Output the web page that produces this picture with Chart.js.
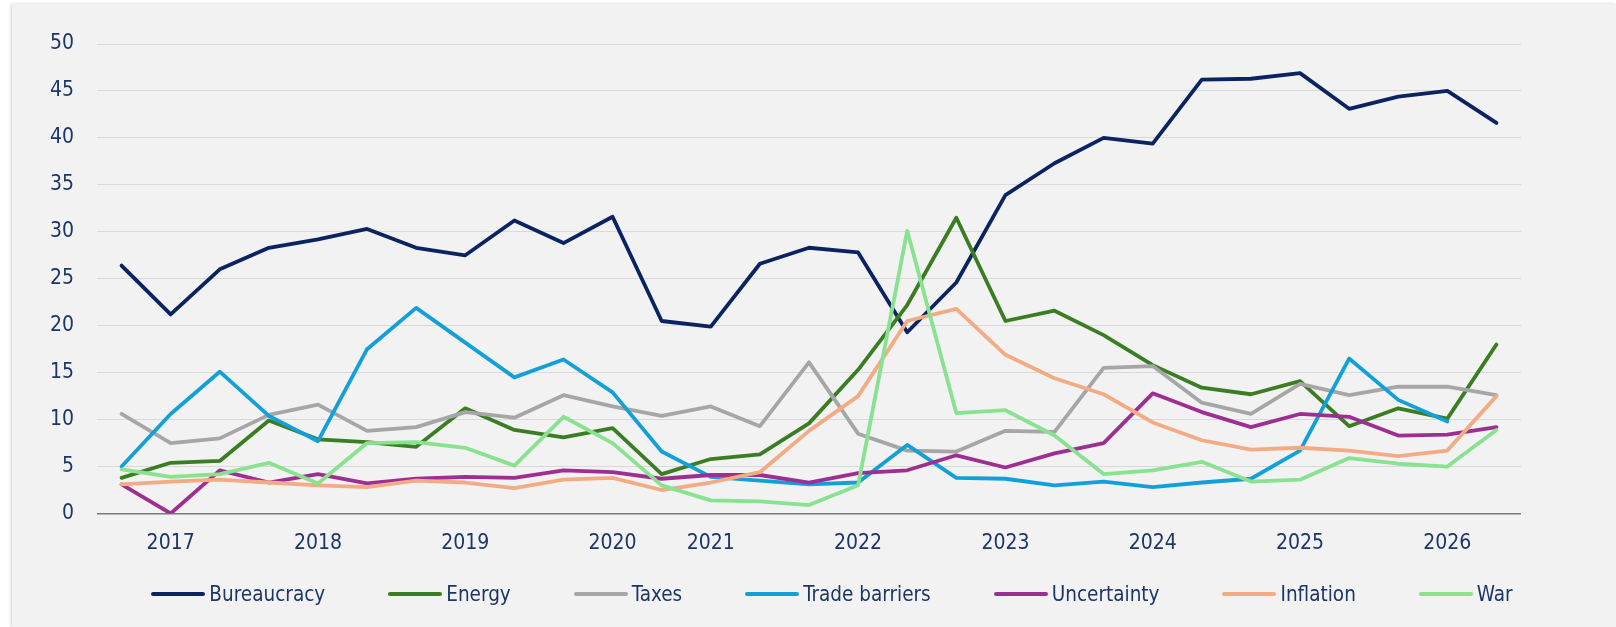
<!DOCTYPE html>
<html>
<head>
<meta charset="utf-8">
<script src="https://cdn.jsdelivr.net/npm/chart.js@4.4.1/dist/chart.umd.min.js"></script>
<style>
  html, body { margin: 0; padding: 0; background: #ffffff; }
  body { width: 1616px; height: 627px; position: relative; overflow: hidden; }
  #panel {
    position: absolute; left: 12px; top: 4px; right: 0; bottom: 0;
    background: #f2f2f2;
    box-shadow: -1px 0 3px rgba(0, 0, 0, 0.18);
  }
  #wrap { position: absolute; left: 0; top: 0; width: 1616px; height: 627px; }
  #legend {
    position: absolute; left: 120px; width: 1424px; top: 580px; height: 28px;
    display: flex; justify-content: center; align-items: center; gap: 63px;
    font-family: "DejaVu Sans Condensed", sans-serif;
    font-size: 20.5px; color: #1c3667;
  }
  .item { display: flex; align-items: center; white-space: nowrap; }
  .swatch { width: 54px; height: 4px; border-radius: 2px; margin-right: 4px; }
</style>
</head>
<body>
<div id="panel"></div>
<div id="wrap"><canvas id="chart"></canvas></div>
<div id="legend"></div>
<script>
  const FONT = '"DejaVu Sans Condensed", sans-serif';
  const TEXT = "#1c3667";

  // 29 survey waves, year label under the middle wave
  const waveLabels = [
    "", "2017", "", "", "2018", "", "", "2019", "", "", "2020", "", "2021", "", "",
    "2022", "", "", "2023", "", "", "2024", "", "", "2025", "", "", "2026", ""
  ];

  const bureaucracy = [26.4, 21.2, 26.0, 28.3, 29.2, 30.3, 28.3, 27.5, 31.2, 28.8, 31.6, 20.5, 19.9, 26.6, 28.3, 27.8, 19.3, 24.6, 33.9, 37.3, 40.0, 39.4, 46.2, 46.3, 46.9, 43.1, 44.4, 45.0, 41.6];
  const energy = [3.8, 5.4, 5.6, 9.9, 7.9, 7.6, 7.1, 11.2, 8.9, 8.1, 9.1, 4.2, 5.8, 6.3, 9.6, 15.3, 22.2, 31.5, 20.5, 21.6, 19.0, 15.8, 13.4, 12.7, 14.1, 9.3, 11.2, 10.1, 18.0];
  const taxes = [10.6, 7.5, 8.0, 10.5, 11.6, 8.8, 9.2, 10.8, 10.2, 12.6, 11.4, 10.4, 11.4, 9.3, 16.1, 8.5, 6.7, 6.6, 8.8, 8.7, 15.5, 15.7, 11.8, 10.6, 13.8, 12.6, 13.5, 13.5, 12.6];
  const tradeBarriers = [5.0, 10.6, 15.1, 10.4, 7.7, 17.5, 21.9, 18.2, 14.5, 16.4, 12.9, 6.6, 3.9, 3.5, 3.1, 3.3, 7.3, 3.8, 3.7, 3.0, 3.4, 2.8, 3.3, 3.7, 6.7, 16.5, 12.1, 9.8, null];
  const uncertainty = [3.1, 0.0, 4.6, 3.3, 4.2, 3.2, 3.7, 3.9, 3.8, 4.6, 4.4, 3.7, 4.1, 4.1, 3.3, 4.3, 4.6, 6.2, 4.9, 6.4, 7.5, 12.8, 10.8, 9.2, 10.6, 10.3, 8.3, 8.4, 9.2];
  const inflation = [3.1, 3.4, 3.6, 3.3, 3.0, 2.8, 3.5, 3.3, 2.7, 3.6, 3.8, 2.5, 3.3, 4.4, 8.8, 12.5, 20.5, 21.8, 16.9, 14.4, 12.7, 9.7, 7.8, 6.8, 7.0, 6.7, 6.1, 6.7, 12.5];
  const war = [4.7, 3.9, 4.2, 5.4, 3.2, 7.5, 7.6, 7.0, 5.1, 10.3, 7.5, 3.0, 1.4, 1.3, 0.9, 3.0, 30.1, 10.7, 11.0, 8.3, 4.2, 4.6, 5.5, 3.4, 3.6, 5.9, 5.3, 5.0, 8.9];

  const seriesNames = ["Bureaucracy", "Energy", "Taxes", "Trade barriers", "Uncertainty", "Inflation", "War"];
  const seriesData = [bureaucracy, energy, taxes, tradeBarriers, uncertainty, inflation, war];
  const seriesColors = ["#0b2461", "#3b7d23", "#a6a6a6", "#13a0d8", "#9e2f92", "#f3ab84", "#88e28f"];

  const datasets = seriesNames.map(function (name, i) {
    return {
      label: name,
      data: seriesData[i],
      borderColor: seriesColors[i],
      backgroundColor: seriesColors[i],
      borderWidth: 3.8,
      pointRadius: 0,
      tension: 0,
      borderCapStyle: "round",
      borderJoinStyle: "round",
      spanGaps: false,
      order: seriesNames.length - i,
    };
  });

  const chart = new Chart(document.getElementById("chart"), {
    type: "line",
    data: { labels: waveLabels, datasets },
    options: {
      responsive: true,
      maintainAspectRatio: false,
      animation: false,
      layout: { padding: { top: 44, right: 95, left: 0, bottom: 53.5 } },
      plugins: {
        legend: { display: false },
        tooltip: { enabled: false },
      },
      scales: {
        x: {
          offset: true,
          border: { display: false },
          grid: { display: false, drawTicks: false },
          ticks: {
            autoSkip: false,
            maxRotation: 0,
            padding: 17,
            color: TEXT,
            font: { family: FONT, size: 21 },
          },
          afterFit: function (scale) { scale.height = 60; },
        },
        y: {
          min: 0,
          max: 50,
          border: { display: false },
          grid: {
            drawTicks: false,
            color: function (ctx) { return ctx.tick && ctx.tick.value === 0 ? "#7a7a7a" : "#d9d9d9"; },
            lineWidth: function (ctx) { return ctx.tick && ctx.tick.value === 0 ? 1.6 : 1; },
          },
          ticks: {
            stepSize: 5,
            padding: 23,
            color: TEXT,
            font: { family: FONT, size: 21 },
          },
          afterFit: function (scale) { scale.width = 97; },
        },
      },
    },
  });

  // HTML legend built from the chart's datasets
  const legendNode = document.getElementById("legend");
  chart.data.datasets.forEach(function (ds) {
    const item = document.createElement("div");
    item.className = "item";
    const sw = document.createElement("span");
    sw.className = "swatch";
    sw.style.background = ds.borderColor;
    const txt = document.createElement("span");
    txt.textContent = ds.label;
    item.appendChild(sw);
    item.appendChild(txt);
    legendNode.appendChild(item);
  });
</script>
</body>
</html>
